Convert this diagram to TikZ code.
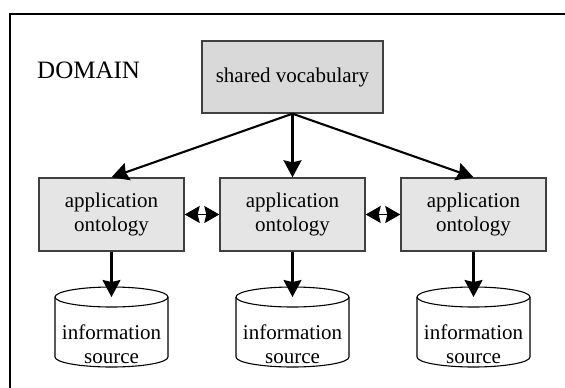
\documentclass[tikz,border=0pt]{standalone}
\usepackage{fontspec}
\setmainfont{Liberation Serif}
\usetikzlibrary{arrows.meta}
\begin{document}
\begin{tikzpicture}[x=1pt,y=-1pt,
  txt/.style={font=\fontsize{21}{24.5}\selectfont},
  vocab/.style={txt, draw=black!75, line width=1.4pt, fill=black!15,
    minimum width=181pt, minimum height=72pt, inner sep=0pt},
  appbox/.style={txt, draw=black!75, line width=1.4pt, fill=black!10,
    minimum width=145pt, minimum height=73pt, inner sep=0pt, align=center},
  srclabel/.style={txt, align=center, inner sep=0pt},
  cyl/.style={draw=black, line width=1.1pt, fill=white},
  link/.style={line width=2.1pt, -{Stealth[length=17pt,width=18pt,inset=2pt]}},
  peer/.style={line width=1.2pt,
    {Stealth[length=15pt,width=17pt,inset=2pt]}-{Stealth[length=15pt,width=17pt,inset=2pt]}}]
  \useasboundingbox (0,0) rectangle (565,388);

  % domain frame (runs off the right and bottom edges)
  \draw[line width=2.6pt] (10,420) -- (10,14) -- (600,14);
  \node[anchor=base west, inner sep=0pt, font=\fontsize{25}{29}\selectfont] (domain) at (37,78) {DOMAIN};

  % shared vocabulary and application ontologies
  \node[vocab] (sv) at (292.5,77) {shared vocabulary};
  \node[appbox] (a1) at (111.5,214.5) {application\\ontology};
  \node[appbox] (a2) at (292.5,214.5) {application\\ontology};
  \node[appbox] (a3) at (473.5,214.5) {application\\ontology};

  % information sources drawn as cylinders
  \foreach \n/\cx in {s1/111.5, s2/292.5, s3/473.5}{
    \path[cyl] (\cx-56.5,297) -- (\cx-56.5,357)
      arc[start angle=180, end angle=0, x radius=56.5, y radius=10]
      -- (\cx+56.5,297);
    \draw[cyl] (\cx,297) ellipse[x radius=56.5, y radius=10];
    \node[srclabel] (\n) at (\cx,344) {information\\source};
    \coordinate (\n top) at (\cx,297);
  }

  % connectors
  \draw[link] (sv.south) -- (a1.north);
  \draw[link] (sv.south) -- (a2.north);
  \draw[link] (sv.south) -- (a3.north);
  \draw[link] (a1.south) -- (s1top);
  \draw[link] (a2.south) -- (s2top);
  \draw[link] (a3.south) -- (s3top);
  \draw[peer] (a1.east) -- (a2.west);
  \draw[peer] (a2.east) -- (a3.west);
\end{tikzpicture}
\end{document}
